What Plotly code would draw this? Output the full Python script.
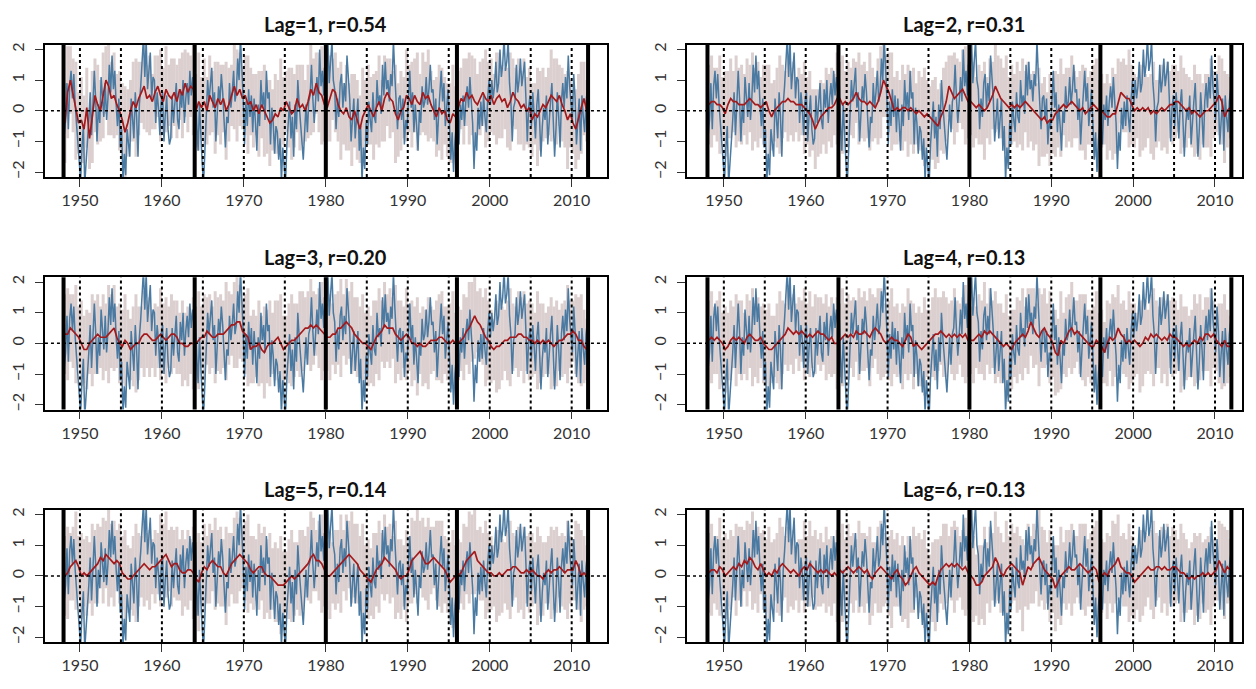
import plotly.graph_objects as go

# ---------------- data ----------------
titles = ["Lag=1, r=0.54", "Lag=2, r=0.31", "Lag=3, r=0.20",
          "Lag=4, r=0.13", "Lag=5, r=0.14", "Lag=6, r=0.13"]
start_year = 1948
x_ticks = [1950, 1960, 1970, 1980, 1990, 2000, 2010]
y_ticks = [-2, -1, 0, 1, 2]
segment_years = [1948, 1964, 1980, 1996, 2012]
marker_years = [1950, 1955, 1960, 1965, 1970, 1975, 1980, 1985, 1990, 1995, 2000, 2005, 2010]

# observed index, 6 values per year (bi-monthly), 1948-2011
observed = [
    -0.8, -0.3, 0.9, -0.6, 0.8, 1.3,   0.4, 1.2, 0.2, -0.4, -1.1, -1.6,
    -2.3, -1.2, -0.5, -2.4, -1.8, -0.9,  -0.3, 0.6, -0.8, 0.2, 1.3, 0.4,
    -1.0, 0.2, -0.4, 1.1, 0.5, -0.2,   0.9, -0.3, 0.4, 1.5, 0.6, 1.8,
    0.7, 1.3, 0.2, -0.5, 0.4, -1.2,   -0.6, -2.3, -1.4, -2.1, -0.6, -1.0,
    -1.5, 0.4, -0.3, -0.9, 0.6, -0.2,  -1.5, 0.2, 0.8, 1.4, 2.4, 1.1,
    2.3, 0.7, 1.2, 1.9, 0.4, 1.1,   1.0, -0.4, 0.6, 0.1, -0.8, 0.3,
    0.6, -1.0, -0.1, 0.5, -0.6, -1.1,  -0.9, 0.5, -0.4, 0.2, 0.9, -0.3,
    -0.6, 0.7, 0.1, 1.0, -0.4, 0.4,   0.9, 0.2, 1.3, 0.5, 1.1, 0.6,
    1.0, -0.4, -1.3, 0.2, -1.0, -1.7,  -2.4, -1.2, 0.2, 1.0, 0.3, 0.8,
    1.4, 0.1, 0.6, -1.0, 0.2, 0.8,   0.3, 1.2, 0.6, -0.6, -1.2, -0.2,
    -0.4, 0.9, 0.1, 0.6, 1.3, 0.3,   0.6, 1.7, 1.0, 2.4, 1.5, 0.4,
    -1.1, 0.3, -0.5, 0.7, -0.2, 0.5,  -0.7, 0.4, -0.4, -1.3, 0.2, -0.5,
    1.0, 0.1, 0.6, -0.3, 1.3, 0.4,   0.6, -1.1, 0.1, -0.4, -1.4, -0.5,
    -0.7, -1.6, -0.9, -2.3, -1.2, -2.1,  -2.4, -1.1, -0.3, 0.3, -0.9, -0.2,
    -1.5, 0.2, -0.6, 1.0, 0.2, -0.6,  -1.0, -1.6, -0.5, 0.2, -0.7, 0.3,
    0.5, 1.5, 0.4, -0.4, 0.3, 1.1,   0.3, 2.0, 0.8, 1.3, 0.5, 1.8,
    1.2, 2.4, 0.9, 1.6, 2.3, 1.0,   0.7, -0.6, 0.4, -0.2, 0.9, 1.2,
    0.1, 0.9, 0.3, 1.8, 1.0, 0.4,   -1.0, -0.2, 0.4, -0.9, -0.2, 0.4,
    -1.3, -0.5, -2.3, -1.2, -1.9, -0.4,  -1.1, 0.3, -0.3, -0.7, 0.6, -0.2,
    -0.4, 1.0, 0.2, 0.5, -0.1, 1.5,   0.5, 1.6, 0.7, 1.0, 0.3, 1.2,
    0.8, 2.3, 1.2, 0.1, -0.6, 0.4,   0.5, -0.3, 0.4, -1.1, -0.3, -0.6,
    0.5, 1.3, 0.1, 0.6, -0.7, 0.2,   -0.5, -1.3, 0.0, -0.4, 0.8, 0.1,
    0.3, 1.1, 0.2, 0.7, 1.5, 0.6,   0.7, -0.3, 0.4, -1.1, -0.2, 0.5,
    1.3, 0.3, 0.9, -0.5, 0.2, 0.7,   -0.4, -1.6, -0.7, -2.0, -1.0, -0.5,
    -0.6, -1.1, 0.2, -0.3, 0.5, -0.5,  0.3, 0.8, 0.1, 1.1, 0.3, -0.4,
    -1.9, -0.7, -1.3, 0.1, -0.6, 0.3,  -0.5, 0.5, -0.2, -0.7, 0.4, 1.0,
    0.2, 1.0, 0.4, 0.8, 1.6, 0.6,   0.9, 2.0, 1.1, 1.5, 2.4, 1.3,
    1.6, 2.3, 0.9, 0.3, -1.0, 0.1,   0.3, 1.5, 0.6, 1.0, 1.7, 0.8,
    1.2, 1.6, 0.4, -1.0, 0.1, 0.5,   -0.5, 0.6, -0.1, -0.9, 0.2, 0.7,
    -0.3, -1.5, -0.5, 0.1, -0.3, 0.5,  -1.1, -0.2, 0.3, 0.9, -0.6, -1.5,
    -0.6, 0.6, -0.2, -1.2, 0.3, 0.9,  0.1, 1.1, 0.4, 1.8, 0.8, 0.3,
    -0.3, 1.2, 0.4, -1.1, -0.2, 0.4,  -1.3, 0.5, -0.2, -0.7, 0.3, 0.7,
]

# ensemble spread (half width of grey band), 3 values per year
spread = [
    1.3, 1.5, 1.1,  1.2, 1.6, 1.0,  1.4, 1.1, 1.3,  1.0, 1.5, 1.2,  1.3, 1.0, 1.4,  1.1, 1.6, 1.2,
    1.4, 1.0, 1.3,  1.2, 1.5, 1.1,  1.0, 1.3, 1.6,  1.2, 1.0, 1.4,  1.1, 1.3, 0.9,  1.2, 1.0, 1.5,
    1.1, 1.4, 1.0,  1.3, 1.1, 1.2,  1.0, 1.4, 1.1,  1.3, 1.0, 1.5,  1.2, 1.6, 1.0,  1.4, 1.1, 1.3,
    1.0, 1.5, 1.2,  1.3, 1.1, 1.6,  1.2, 1.0, 1.4,  1.5, 1.2, 1.0,  1.3, 1.6, 1.1,  1.2, 1.0, 1.4,
    1.1, 1.5, 1.2,  1.4, 1.0, 1.3,  1.2, 1.6, 1.1,  1.0, 1.3, 1.5,  1.2, 1.1, 1.4,  1.3, 1.0, 1.2,
    1.5, 1.2, 1.0,  1.3, 1.6, 1.2,  1.1, 1.4, 1.0,  1.3, 1.2, 1.6,  1.0, 1.4, 1.1,  1.5, 1.2, 1.3,
    1.1, 1.6, 1.0,  1.3, 1.1, 1.4,  1.2, 1.5, 1.0,  1.4, 1.1, 1.3,  1.0, 1.6, 1.2,  1.3, 1.0, 1.5,
    1.1, 1.4, 1.2,  1.6, 1.0, 1.3,  1.2, 1.5, 1.1,  1.0, 1.3, 1.4,  1.5, 1.1, 1.2,  1.3, 1.6, 1.0,
    1.2, 1.0, 1.4,  1.1, 1.5, 1.3,  1.4, 1.0, 1.2,  1.1, 1.6, 1.3,  1.2, 1.0, 1.5,  1.4, 1.2, 1.0,
    1.3, 1.6, 1.1,  1.0, 1.4, 1.2,  1.5, 1.1, 1.3,  1.2, 1.0, 1.6,  1.3, 1.2, 1.0,  1.1, 1.5, 1.3,
    1.4, 1.0, 1.2,  1.2, 1.6, 1.1,  1.0, 1.3, 1.4,  1.5, 1.2, 1.0,
]

# predicted index (ensemble mean), 3 values per year, one list per lag
pred_lag1 = [
    -0.4, 0.6, 1.0,  0.5, 0.0, -0.4,  -0.3, -0.6, 0.1,  -0.9, -0.2, 0.5,  0.2, 0.0, 0.5,  1.0, 0.8, 0.4,
    0.5, 0.2, 0.0,  -0.3, -0.7, -0.4,  0.0, 0.3, 0.1,  0.4, 0.6, 0.8,  0.4, 0.5, 0.3,  0.6, 0.8, 0.5,
    0.3, 0.7, 0.5,  0.4, 0.6, 0.3,  0.7, 0.5, 0.9,  0.6, 0.8, 0.7,  0.0, 0.3, 0.1,  0.3, 0.0, 0.5,
    0.3, 0.1, 0.4,  0.2, 0.4, 0.0,  0.2, 0.5, 0.8,  0.5, 0.7, 0.4,  0.5, 0.2, 0.3,  0.0, 0.2, -0.1,
    0.2, 0.0, -0.2,  -0.4, -0.3, -0.1,  -0.2, 0.1, 0.0,  0.3, 0.1, -0.1,  0.0, 0.4, 0.1,  0.2, 0.0, 0.3,
    0.7, 0.5, 0.9,  0.6, 0.5, 0.2,  0.1, 0.4, 0.7,  0.6, 0.2, 0.0,  -0.1, 0.1, -0.2,  -0.3, 0.0, -0.3,
    -0.6, -0.2, 0.0,  0.2, 0.0, -0.2,  0.1, 0.3, 0.0,  0.4, 0.6, 0.4,  0.3, -0.1, -0.3,  0.0, 0.1, 0.5,
    0.4, 0.2, 0.5,  0.3, 0.2, 0.6,  0.4, 0.5, 0.2,  0.0, -0.2, 0.1,  -0.1, 0.0, -0.3,  -0.4, -0.1, -0.2,
    0.1, 0.4, 0.3,  0.6, 0.4, 0.5,  0.3, 0.2, 0.4,  0.6, 0.4, 0.3,  0.5, 0.2, 0.4,  0.5, 0.3, 0.4,
    0.1, 0.3, 0.6,  0.4, 0.3, 0.1,  0.2, 0.0, 0.1,  -0.3, -0.1, -0.2,  0.0, 0.2, 0.1,  0.3, 0.5, 0.4,
    0.3, 0.5, 0.2,  0.0, -0.3, -0.1,  -0.4, -0.6, -0.2,  0.1, 0.4, 0.0,
]
pred_lag2 = [
    0.2, 0.3, 0.3,  0.2, 0.2, 0.1,  -0.1, 0.2, 0.4,  0.3, 0.3, 0.2,  0.2, 0.2, 0.3,  0.4, 0.3, 0.2,
    0.2, 0.1, 0.2,  0.3, 0.0, -0.2,  0.0, 0.1, 0.2,  0.3, 0.3, 0.4,  0.3, 0.3, 0.2,  0.2, 0.2, 0.1,
    0.0, -0.1, -0.3,  -0.6, -0.4, -0.2,  -0.1, 0.0, 0.1,  0.1, 0.2, 0.4,  0.4, 0.2, 0.3,  0.2, 0.3, 0.4,
    0.6, 0.4, 0.3,  0.3, 0.2, 0.3,  0.2, 0.1, 0.3,  0.6, 1.0, 0.8,  0.6, 0.3, 0.0,  0.1, 0.0, 0.1,
    0.1, 0.0, 0.1,  0.0, -0.1, 0.0,  -0.1, -0.2, -0.1,  -0.2, -0.3, -0.4,  -0.5, -0.2, 0.0,  0.3, 0.8, 0.6,
    0.4, 0.5, 0.6,  0.7, 0.5, 0.3,  0.3, 0.2, 0.1,  0.2, 0.1, 0.0,  0.1, 0.3, 0.5,  0.8, 0.6, 0.4,
    0.3, 0.2, 0.1,  0.2, 0.1, 0.2,  0.1, 0.2, 0.3,  0.2, 0.1, 0.0,  -0.1, -0.2, -0.3,  -0.2, -0.4, -0.3,
    -0.3, -0.1, 0.0,  0.1, 0.2, 0.1,  0.2, 0.3, 0.2,  0.1, 0.0, 0.1,  -0.1, 0.0, 0.1,  0.2, 0.1, 0.0,
    0.0, -0.1, -0.2,  -0.2, -0.1, -0.1,  0.3, 0.6, 0.5,  0.4, 0.4, 0.2,  0.0, 0.1, 0.0,  0.1, 0.0, 0.1,
    -0.1, 0.0, -0.1,  0.0, 0.1, 0.0,  0.1, 0.2, 0.2,  0.3, 0.3, 0.2,  0.1, 0.0, 0.1,  -0.1, 0.0, -0.1,
    -0.2, -0.1, 0.0,  0.0, 0.1, 0.2,  0.3, 0.5, 0.3,  -0.2, 0.0, 0.1,
]
pred_lag3 = [
    0.3, 0.3, 0.5,  0.4, 0.3, 0.2,  0.0, -0.2, -0.2,  0.0, 0.1, 0.2,  0.3, 0.2, 0.2,  0.2, 0.3, 0.4,
    0.5, 0.2, 0.0,  -0.1, 0.1, 0.0,  -0.2, -0.1, 0.0,  0.0, 0.2, 0.3,  0.3, 0.2, 0.1,  0.1, 0.2, 0.3,
    0.2, 0.1, 0.2,  0.3, 0.3, 0.2,  0.0, 0.0, -0.1,  -0.1, 0.0, 0.0,  0.0, 0.1, 0.2,  0.2, 0.4, 0.3,
    0.2, 0.2, 0.3,  0.3, 0.3, 0.4,  0.5, 0.6, 0.6,  0.7, 0.7, 0.4,  0.3, 0.2, -0.2,  -0.1, -0.1, 0.0,
    -0.2, -0.3, -0.1,  0.0, 0.0, 0.1,  0.2, 0.0, -0.2,  -0.1, 0.0, 0.1,  0.1, 0.2, 0.3,  0.4, 0.5, 0.5,
    0.6, 0.5, 0.6,  0.5, 0.4, 0.3,  0.2, 0.2, 0.3,  0.3, 0.5, 0.5,  0.6, 0.7, 0.6,  0.5, 0.3, 0.2,
    0.1, 0.0, 0.0,  -0.1, -0.2, 0.0,  0.2, 0.3, 0.4,  0.6, 0.5, 0.5,  0.5, 0.3, 0.2,  0.1, 0.2, 0.3,
    0.2, 0.0, 0.0,  -0.1, 0.0, -0.1,  -0.1, 0.0, 0.1,  0.1, 0.1, 0.2,  0.2, 0.1, 0.0,  0.0, 0.1, 0.0,
    0.0, 0.1, 0.2,  0.4, 0.5, 0.7,  0.9, 0.7, 0.6,  0.4, 0.2, 0.1,  -0.1, -0.2, -0.1,  -0.1, 0.0, 0.1,
    0.1, 0.2, 0.2,  0.2, 0.3, 0.3,  0.2, 0.2, 0.1,  0.1, 0.0, 0.1,  0.0, 0.1, 0.0,  0.1, 0.0, -0.1,
    0.0, 0.1, 0.1,  0.2, 0.3, 0.3,  0.4, 0.3, 0.1,  0.1, -0.1, -0.2,
]
pred_lag4 = [
    0.1, 0.2, 0.1,  0.2, 0.1, 0.0,  -0.2, -0.1, 0.1,  0.2, 0.1, 0.2,  0.1, 0.0, 0.2,  0.3, 0.2, 0.1,
    0.1, 0.2, 0.0,  -0.1, -0.2, -0.2,  -0.1, 0.0, 0.1,  0.2, 0.3, 0.5,  0.4, 0.3, 0.4,  0.3, 0.4, 0.3,
    0.2, 0.3, 0.2,  0.3, 0.4, 0.3,  0.3, 0.2, 0.1,  0.2, 0.0, 0.0,  0.1, 0.2, 0.3,  0.2, 0.3, 0.2,
    0.4, 0.3, 0.3,  0.4, 0.3, 0.2,  0.4, 0.5, 0.4,  0.3, 0.1, 0.0,  0.1, 0.2, 0.1,  0.1, 0.0, -0.1,
    0.1, 0.3, 0.2,  -0.1, 0.0, -0.1,  -0.2, -0.1, 0.0,  0.1, 0.2, 0.3,  0.3, 0.4, 0.3,  0.2, 0.3, 0.2,
    0.3, 0.2, 0.3,  0.2, 0.3, 0.1,  0.1, 0.1, 0.2,  0.3, 0.2, 0.4,  0.3, 0.4, 0.3,  0.2, 0.1, 0.0,
    -0.1, 0.0, -0.1,  -0.2, 0.0, 0.1,  0.2, 0.3, 0.2,  0.4, 0.7, 0.5,  0.3, 0.2, 0.4,  0.5, 0.3, 0.2,
    0.0, -0.3, -0.4,  0.1, 0.0, 0.2,  0.4, 0.5, 0.3,  0.4, 0.3, 0.2,  0.1, 0.0, -0.1,  -0.1, 0.1, 0.0,
    -0.1, -0.3, 0.0,  0.2, 0.1, 0.2,  0.5, 0.3, 0.2,  0.0, 0.1, 0.0,  0.1, 0.0, -0.1,  0.0, 0.2, 0.1,
    0.3, 0.2, 0.3,  0.2, 0.1, 0.2,  0.1, 0.3, 0.2,  0.2, 0.1, 0.0,  -0.1, 0.0, -0.1,  0.0, 0.1, 0.0,
    0.2, 0.1, 0.3,  0.3, 0.2, 0.3,  0.1, 0.0, -0.1,  0.1, -0.1, -0.1,
]
pred_lag5 = [
    0.0, 0.1, 0.3,  0.4, 0.5, 0.3,  0.0, 0.1, 0.0,  0.1, 0.2, 0.3,  0.4, 0.6, 0.5,  0.7, 0.6, 0.5,
    0.4, 0.5, 0.4,  0.1, 0.0, -0.1,  -0.1, 0.0, 0.1,  0.2, 0.3, 0.4,  0.3, 0.2, 0.3,  0.3, 0.4, 0.5,
    0.6, 0.7, 0.5,  0.3, 0.4, 0.4,  0.2, 0.1, 0.1,  0.2, 0.2, 0.1,  -0.1, -0.2, 0.1,  0.3, 0.2, 0.4,
    0.5, 0.4, 0.3,  0.3, 0.1, 0.0,  0.2, 0.4, 0.5,  0.6, 0.7, 0.6,  0.5, 0.4, 0.2,  0.1, 0.2, 0.3,
    0.3, 0.1, 0.0,  0.0, -0.1, -0.2,  -0.3, -0.3, -0.3,  -0.2, -0.1, 0.0,  -0.1, 0.0, 0.1,  0.2, 0.3, 0.4,
    0.6, 0.7, 0.5,  0.5, 0.4, 0.2,  0.0, 0.0, 0.1,  0.2, 0.3, 0.4,  0.5, 0.6, 0.7,  0.6, 0.5, 0.4,
    0.2, 0.1, 0.0,  -0.1, -0.2, 0.0,  0.2, 0.3, 0.4,  0.6, 0.5, 0.4,  0.3, 0.2, 0.0,  -0.1, 0.0, 0.0,
    0.2, 0.5, 0.6,  0.7, 0.8, 0.6,  0.4, 0.4, 0.5,  0.6, 0.5, 0.4,  0.3, 0.2, 0.0,  -0.2, -0.1, 0.0,
    0.0, 0.1, 0.3,  0.5, 0.6, 0.7,  0.8, 0.5, 0.4,  0.3, 0.2, 0.1,  0.1, 0.0, 0.0,  0.1, 0.0, 0.1,
    0.2, 0.2, 0.3,  0.3, 0.2, 0.1,  0.1, 0.2, 0.1,  0.2, 0.1, 0.0,  0.0, -0.1, 0.1,  0.2, 0.1, 0.2,
    0.2, 0.3, 0.2,  0.1, 0.2, 0.2,  0.2, 0.5, 0.3,  0.0, 0.1, 0.0,
]
pred_lag6 = [
    0.1, 0.2, 0.2,  0.1, 0.3, 0.2,  0.0, 0.1, 0.2,  0.3, 0.2, 0.4,  0.3, 0.5, 0.4,  0.6, 0.5, 0.3,
    0.2, 0.4, 0.2,  0.0, 0.1, 0.0,  0.2, 0.1, 0.3,  0.4, 0.3, 0.2,  0.1, 0.2, 0.1,  0.0, 0.2, 0.3,
    0.2, 0.4, 0.3,  0.2, 0.1, 0.2,  0.1, 0.2, 0.1,  0.0, 0.1, 0.0,  0.2, 0.1, 0.2,  0.3, 0.2, 0.1,
    0.2, 0.3, 0.2,  0.1, 0.2, 0.0,  -0.1, 0.1, 0.2,  0.3, 0.2, 0.1,  0.0, -0.1, 0.1,  0.2, 0.0, -0.1,
    -0.3, -0.2, 0.0,  0.2, 0.3, 0.1,  0.0, -0.1, -0.2,  -0.3, -0.2, -0.3,  0.0, 0.2, 0.3,  0.4, 0.3, 0.4,
    0.3, 0.4, 0.3,  0.2, 0.3, 0.1,  0.0, -0.1, -0.3,  -0.3, -0.2, 0.0,  0.1, 0.2, 0.3,  0.6, 0.4, 0.1,
    0.0, 0.2, 0.3,  0.4, 0.3, 0.2,  0.1, -0.3, 0.0,  0.3, 0.2, 0.4,  0.5, 0.6, 0.4,  0.2, 0.1, 0.0,
    -0.1, -0.4, -0.2,  0.0, 0.1, 0.2,  0.3, 0.2, 0.2,  0.3, 0.4, 0.3,  0.2, 0.1, 0.2,  0.3, 0.2, -0.2,
    0.0, 0.1, 0.0,  0.2, 0.3, 0.4,  0.6, 0.3, 0.2,  0.1, 0.1, 0.0,  -0.2, -0.1, 0.0,  0.1, 0.2, 0.3,
    0.2, 0.2, 0.3,  0.3, 0.2, 0.3,  0.2, 0.2, 0.3,  0.3, 0.2, 0.1,  0.1, 0.0, -0.1,  0.0, -0.1, 0.0,
    0.0, 0.1, 0.0,  0.1, 0.0, 0.1,  0.2, 0.5, 0.3,  0.1, 0.3, 0.2,
]
predictions = [pred_lag1, pred_lag2, pred_lag3, pred_lag4, pred_lag5, pred_lag6]

# ---------------- layout geometry ----------------
# page body keeps its 8px default margin, so the figure is 1240x673 placed at (8, 8)
W, H = 1240, 673
col_domains = [[0.0298, 0.4828], [0.5476, 0.9949]]
row_domains = [[0.7504, 0.9484], [0.4027, 0.6007], [0.0550, 0.2531]]
title_top = [0.9985, 0.6508, 0.3031]
x_ranges = [[1945.73, 2014.27], [1945.50, 2013.26]]
y_range = [-2.16, 2.16]

BLUE = "#4a7aa1"
RED = "#a31a1c"
GREY = "#dccfcf"

obs_x = [start_year + (i + 0.5) / 6 for i in range(len(observed))]

fig = go.Figure()
shapes = []
annotations = []

for k in range(6):
    row, col = k // 2, k % 2
    n = k + 1
    xa = "x" if n == 1 else f"x{n}"
    ya = "y" if n == 1 else f"y{n}"
    pred = predictions[k]
    pred_x = [start_year + (i + 0.5) / 3 for i in range(len(pred))]

    # grey spread band as vertical bars
    fig.add_trace(go.Scatter(
        x=pred_x, y=pred, mode="markers", xaxis=xa, yaxis=ya,
        marker=dict(size=1, color="rgba(0,0,0,0)"),
        error_y=dict(type="data", array=spread[:len(pred)], symmetric=True,
                     visible=True, width=0, thickness=3.0, color=GREY),
        hoverinfo="skip", showlegend=False))
    # observed
    fig.add_trace(go.Scatter(
        x=obs_x, y=observed, mode="lines", xaxis=xa, yaxis=ya,
        line=dict(color=BLUE, width=1.5), showlegend=False))
    # prediction
    fig.add_trace(go.Scatter(
        x=pred_x, y=pred, mode="lines", xaxis=xa, yaxis=ya,
        line=dict(color=RED, width=1.7), showlegend=False))

    axis_common = dict(showgrid=False, zeroline=False, showline=True, mirror=True,
                       linecolor="black", linewidth=1.5, ticks="outside",
                       ticklen=8, tickwidth=1.3, tickcolor="#333",
                       tickfont=dict(family="Lato", size=16, color="#333"))
    fig.update_layout(**{
        ("xaxis" if n == 1 else f"xaxis{n}"): dict(
            domain=col_domains[col], anchor=ya, range=x_ranges[col],
            tickvals=x_ticks, **axis_common),
        ("yaxis" if n == 1 else f"yaxis{n}"): dict(
            domain=row_domains[row], anchor=xa, range=y_range,
            tickvals=y_ticks, tickangle=-90, ticklabelstandoff=5, **axis_common),
    })

    xref_dom = f"{xa} domain"
    yref_dom = f"{ya} domain"
    for yr in marker_years:
        shapes.append(dict(type="line", xref=xa, yref=yref_dom, x0=yr, x1=yr, y0=0, y1=1,
                           line=dict(color="black", width=2, dash="dot")))
    for yr in segment_years:
        shapes.append(dict(type="line", xref=xa, yref=yref_dom, x0=yr, x1=yr, y0=0, y1=1,
                           line=dict(color="black", width=4)))
    shapes.append(dict(type="line", xref=xref_dom, yref=ya, x0=0, x1=1, y0=0, y1=0,
                       line=dict(color="black", width=1.5, dash="dot")))

    annotations.append(dict(text=f"<b>{titles[k]}</b>", xref="paper", yref="paper",
                            x=sum(col_domains[col]) / 2, y=title_top[row],
                            xanchor="center", yanchor="top", showarrow=False,
                            borderpad=0,
                            font=dict(family="Lato", size=20, color="#111")))

fig.update_layout(width=W, height=H, margin=dict(l=0, r=0, t=0, b=0),
                  paper_bgcolor="white", plot_bgcolor="white",
                  shapes=shapes, annotations=annotations, showlegend=False)

fig.write_html("out.html")
